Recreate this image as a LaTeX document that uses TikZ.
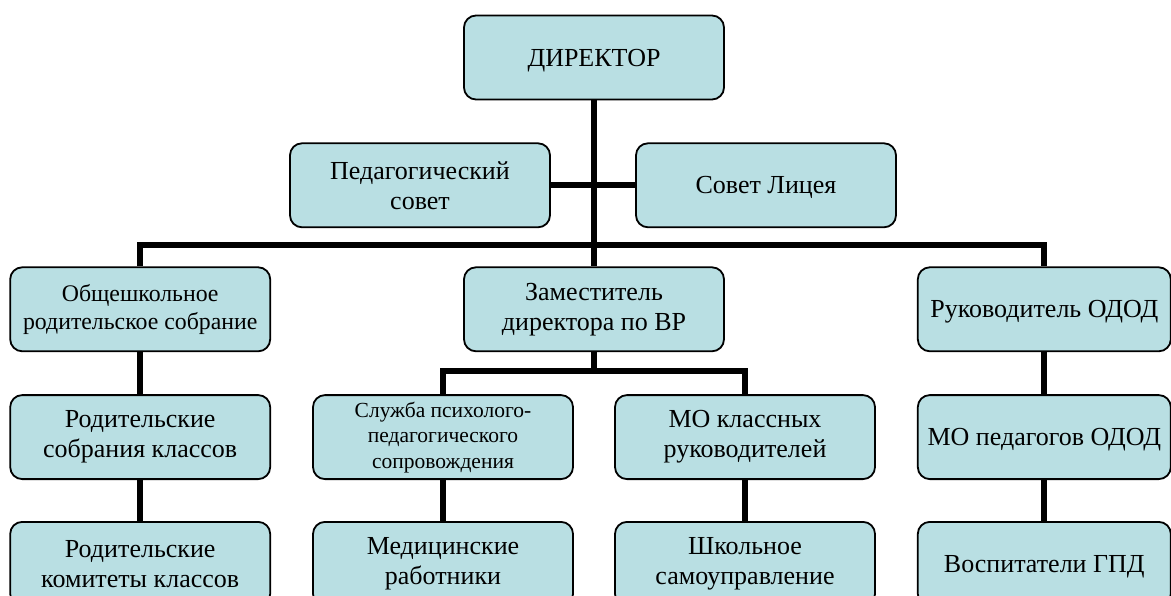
\documentclass[tikz,border=0pt]{standalone}
\usepackage{fontspec}
\setmainfont{Liberation Serif}
\usetikzlibrary{positioning}

\definecolor{boxfill}{RGB}{185,223,227}

\begin{document}
\begin{tikzpicture}[
  x=1pt, y=-1pt,
  node distance=42pt and 42pt,
  box/.style={draw, line width=1.8pt, rounded corners=12pt, fill=boxfill,
    minimum width=260pt, minimum height=84pt, inner sep=2pt, align=center,
    font=\fontsize{26}{30}\selectfont},
  oneline/.style={text depth=0pt},
  smalltext/.style={font=\fontsize{23.8}{28.5}\selectfont},
  tinytext/.style={font=\fontsize{21.5}{25.5}\selectfont},
  link/.style={draw, line width=6pt}
]
\useasboundingbox (0,0) rectangle (1171,596);

% Top nodes
\node[box, oneline] (dir) at (594,57.5) {ДИРЕКТОР};
\node[box, below=42pt of dir, xshift=-174pt] (ped) {Педагогический\\совет};
\node[box, oneline, below=42pt of dir, xshift=172pt] (sovet) {Совет Лицея};

% Second row
\node[box, below=166pt of dir] (zam) {Заместитель\\директора по ВР};
\node[box, smalltext, left=192pt of zam] (obsh) {Общешкольное\\родительское собрание};
\node[box, oneline, minimum width=253pt, right=192pt of zam] (rukov) {Руководитель ОДОД};

% Third row
\node[box, below=of obsh] (rodsobr) {Родительские\\собрания классов};
\node[box, tinytext, below=of zam, xshift=-151pt] (sluzhba) {Служба психолого-\\педагогического\\сопровождения};
\node[box, below=of zam, xshift=151pt] (mokl) {МО классных\\руководителей};
\node[box, oneline, minimum width=253pt, below=of rukov] (mopedod) {МО педагогов ОДОД};

% Bottom row
\node[box, below=41pt of rodsobr] (rodkom) {Родительские\\комитеты классов};
\node[box, below=41pt of sluzhba] (med) {Медицинские\\работники};
\node[box, below=41pt of mokl] (shkol) {Школьное\\самоуправление};
\node[box, oneline, minimum width=253pt, below=41pt of mopedod] (vospit) {Воспитатели ГПД};

% Connectors
\coordinate (bus) at (594,245);
\coordinate (zambus) at (594,370.5);
\path[link] (dir.south) -- (zam.north);
\path[link] (ped.east) -- (sovet.west);
\path[link] (obsh.north) |- (bus) -| (rukov.north);
\path[link] (zam.south) -- (zambus);
\path[link] (sluzhba.north) |- (zambus) -| (mokl.north);
\path[link] (obsh) -- (rodsobr);
\path[link] (rodsobr) -- (rodkom);
\path[link] (sluzhba) -- (med);
\path[link] (mokl) -- (shkol);
\path[link] (rukov) -- (mopedod);
\path[link] (mopedod) -- (vospit);
\end{tikzpicture}
\end{document}
